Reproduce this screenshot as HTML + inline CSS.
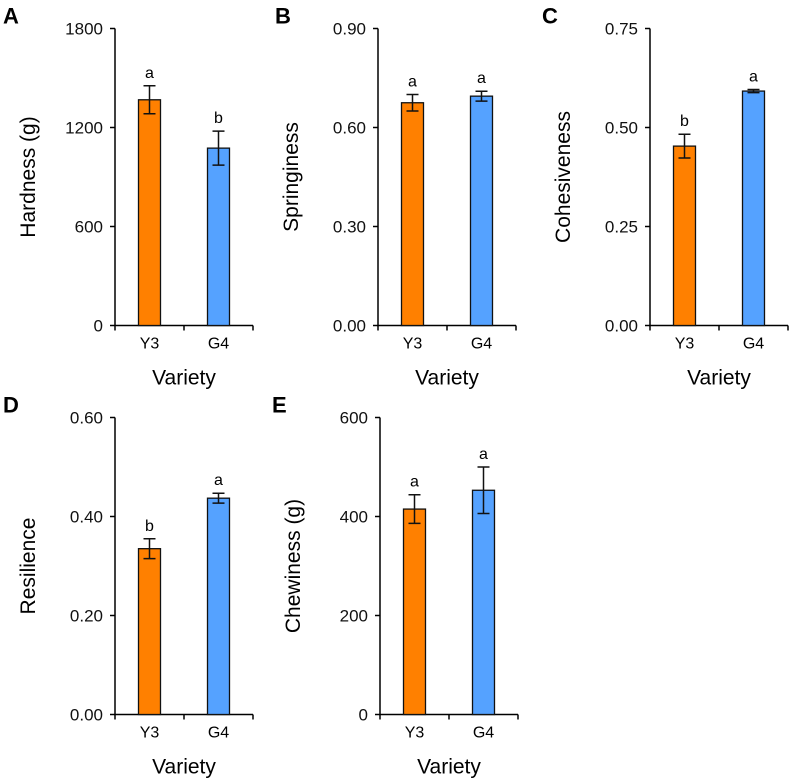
<!DOCTYPE html>
<html><head><meta charset="utf-8"><style>
body{margin:0;background:#fff;}
svg{display:block;font-family:"Liberation Sans",Arial,sans-serif;}
</style></head><body>
<svg id="fig" width="790" height="779"></svg>
<script>
const categories = ["Y3","G4"];
const panelLetters = ["A","B","C","D","E"];
const yTitles = ["Hardness (g)","Springiness","Cohesiveness","Resilience","Chewiness (g)"];
const yMax = [1800,0.9,0.75,0.6,600];
const yTicks = [[0,600,1200,1800],[0,0.3,0.6,0.9],[0,0.25,0.5,0.75],[0,0.2,0.4,0.6],[0,200,400,600]];
const tickDecimals = [0,2,2,2,0];
const meansY3 = [1368,0.675,0.453,0.335,415];
const meansG4 = [1075,0.695,0.592,0.437,453];
const errY3 = [85,0.025,0.03,0.02,29];
const errG4 = [103,0.015,0.004,0.01,47];
const letY3 = ["a","a","b","b","a"];
const letG4 = ["b","a","a","a","a"];
const colors = ["#ff8000","#55a2ff"];

const NS="http://www.w3.org/2000/svg";
const svg=document.getElementById('fig');
function mk(tag,attrs,parent){const e=document.createElementNS(NS,tag);for(const k in attrs)e.setAttribute(k,attrs[k]);(parent||svg).appendChild(e);return e;}
const axX=[115,378,650,115,380];
const letX=[3,275,542,3,272];
const topY=[28.5,28.5,28.5,417.5,417.5];
const H=297, W=138;
for(let p=0;p<5;p++){
  const g=mk('g',{});
  
  
  const x0=axX[p], y0=topY[p]+H;
  const ys=v=>y0-v/yMax[p]*H;
  const xc=i=>x0+34.5+i*69;
  let t=mk('text',{x:letX[p],y:topY[p]-5,'font-size':22,'font-weight':'bold'},g);t.textContent=panelLetters[p];
  
  let ax=mk('path',{d:`M${x0} ${topY[p]}V${y0}H${x0+W}`,stroke:'#000','stroke-width':1.5,fill:'none'},g);
  
  yTicks[p].forEach(v=>{
    mk('line',{x1:x0-5,x2:x0,y1:ys(v),y2:ys(v),stroke:'#000','stroke-width':1.5},g);
    const l=mk('text',{x:x0-12,y:ys(v)+6,'font-size':17,'text-anchor':'end',fill:'#111'},g);
    l.textContent=v.toFixed(tickDecimals[p]);
    
  });
  [0,69,138].forEach(d=>mk('line',{x1:x0+d,x2:x0+d,y1:y0,y2:y0+5,stroke:'#000','stroke-width':1.5},g));
  const yl=mk('text',{transform:`translate(${x0-80},${topY[p]+H/2}) rotate(-90)`,'font-size':21,'text-anchor':'middle'},g);
  yl.textContent=yTitles[p];
  const xl=mk('text',{x:x0+69,y:y0+59,'font-size':21,'text-anchor':'middle'},g);
  xl.textContent='Variety';
  const means=[meansY3[p],meansG4[p]], errs=[errY3[p],errG4[p]], lets=[letY3[p],letG4[p]];
  categories.forEach((c,i)=>{
    const cx=xc(i);
    const b=mk('rect',{x:cx-11,y:ys(means[i]),width:22,height:y0-ys(means[i]),fill:colors[i],stroke:'#111','stroke-width':1.3},g);
    
    const hi=ys(means[i]+errs[i]), lo=ys(means[i]-errs[i]);
    const e=mk('path',{d:`M${cx} ${hi}V${lo}M${cx-6} ${hi}H${cx+6}M${cx-6} ${lo}H${cx+6}`,stroke:'#111','stroke-width':1.5,fill:'none'},g);
    
    const s=mk('text',{x:cx,y:hi-8,'font-size':16,'text-anchor':'middle'},g);
    s.textContent=lets[i];
    const tl=mk('text',{x:cx,y:y0+23,'font-size':16,'text-anchor':'middle'},g);
    tl.textContent=c;
  });
}
</script>
</body></html>
